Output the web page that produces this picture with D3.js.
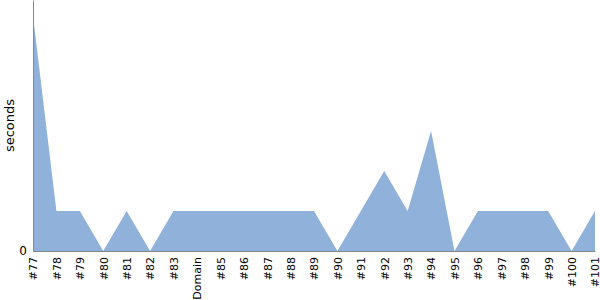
<!DOCTYPE html>
<html>
<head>
<meta charset="utf-8">
<script src="https://cdn.jsdelivr.net/npm/d3@7"></script>
<style>
  body { margin: 0; background: #fff; }
  svg text { font-family: "DejaVu Sans", sans-serif; }
</style>
</head>
<body>
<svg id="chart" width="600" height="300"></svg>
<script>
// run labels and time in seconds
var labels = ["#77", "#78", "#79", "#80", "#81", "#82", "#83", "Domain", "#85", "#86",
  "#87", "#88", "#89", "#90", "#91", "#92", "#93", "#94", "#95", "#96",
  "#97", "#98", "#99", "#100", "#101"];
var seconds = [5.875, 1, 1, 0, 1, 0, 1, 1, 1, 1,
  1, 1, 1, 0, 1, 2, 1, 3, 0, 1,
  1, 1, 1, 0, 1];
var yTicks = [0];

var svg = d3.select("#chart"),
  margin = {top: 0, right: 5, bottom: 49, left: 33},
  width = +svg.attr("width") - margin.left - margin.right,
  height = +svg.attr("height") - margin.top - margin.bottom;

var g = svg.append("g")
  .attr("transform", "translate(" + margin.left + "," + margin.top + ")");

var x = d3.scalePoint()
  .domain(labels)
  .range([0, width]);

var y = d3.scaleLinear()
  .domain([0, 6.275])
  .range([height, 0]);

var rows = labels.map(function(l, i) { return {label: l, value: seconds[i]}; });

var area = d3.area()
  .x(function(d) { return x(d.label); })
  .y0(height)
  .y1(function(d) { return y(d.value); });

g.append("path")
  .datum(rows)
  .attr("fill", "#8fb1da")
  .attr("d", area);

// x axis
var xAxis = g.append("g")
  .attr("transform", "translate(0," + height + ")")
  .attr("font-family", "DejaVu Sans")
  .call(d3.axisBottom(x).tickSize(0).tickPadding(0));
xAxis.select(".domain").attr("stroke", "#888");
xAxis.selectAll("text")
  .attr("font-size", 11)
  .attr("fill", "#000")
  .attr("transform", "rotate(-90)")
  .attr("text-anchor", "end")
  .attr("x", -6)
  .attr("y", 0)
  .attr("dy", "0.35em");

// y axis
var yAxis = g.append("g")
  .attr("font-family", "DejaVu Sans")
  .call(d3.axisLeft(y).tickValues(yTicks).tickFormat(d3.format("d")).tickSize(0).tickPadding(6));
yAxis.select(".domain").attr("stroke", "#888");
yAxis.selectAll("text")
  .attr("font-size", 12)
  .attr("fill", "#000");

svg.append("text")
  .attr("transform", "translate(14," + (height / 2) + ") rotate(-90)")
  .attr("text-anchor", "middle")
  .attr("font-family", "DejaVu Sans")
  .attr("font-size", 13)
  .text("seconds");
</script>
</body>
</html>
